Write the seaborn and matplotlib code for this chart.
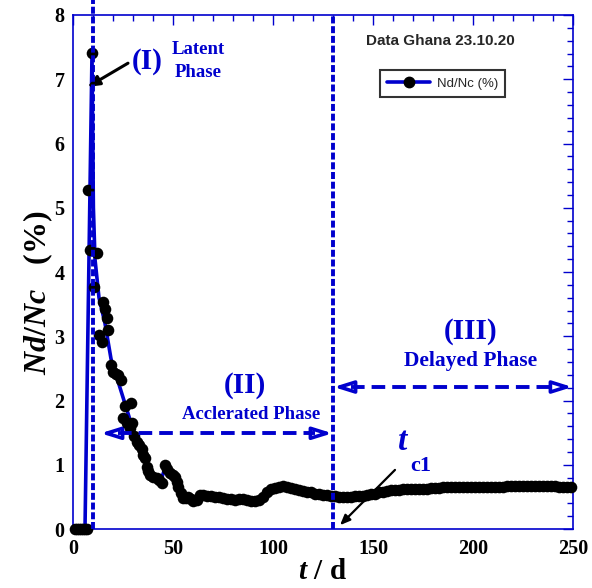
import numpy as np
import pandas as pd
import matplotlib
matplotlib.use("Agg")
import matplotlib.pyplot as plt
import seaborn as sns
from matplotlib.lines import Line2D
from matplotlib.ticker import MultipleLocator

# ─────────────────────────────────────────
# DATA
# ─────────────────────────────────────────

t_days = [1, 2, 3, 4, 5, 6, 7, 7.7, 8.5, 9.3, 10.7, 12.2, 13.2, 14.3, 15.2, 16.0,
          16.8, 17.7, 18.8, 20.2, 21.5, 22.7, 24.0, 24.8, 26.0, 26.8, 28.5, 28.8,
          29.3, 30.5, 31.8, 33.0, 34.3, 35.2, 36.0, 36.8, 37.6, 38.5, 40.0, 41.8,
          43.0, 44.3, 46.0, 47.2, 48.5, 49.8, 51.0, 52.0, 52.7, 54.0, 55.2, 56.5,
          57.7, 59.0, 60.2, 61.8, 63.5, 65, 67, 69, 71, 73, 75, 77, 79, 81, 83,
          85, 87, 89, 91, 93, 95, 97, 99, 101, 103, 105, 107, 109, 111, 113, 115,
          117, 119, 121, 123, 125, 127, 129, 131, 133, 135, 137, 139, 141, 143,
          145, 147, 149, 151, 153, 155, 157, 159, 161, 163, 165, 167, 169, 171,
          173, 175, 177, 179, 181, 183, 185, 187, 189, 191, 193, 195, 197, 199,
          201, 203, 205, 207, 209, 211, 213, 215, 217, 219, 221, 223, 225, 227,
          229, 231, 233, 235, 237, 239, 241, 243, 245, 247, 249]

nd_nc = [0, 0, 0, 0, 0, 0, 0, 5.27, 4.34, 7.41, 3.77, 4.29, 3.02, 2.91, 3.54, 3.42,
         3.28, 3.10, 2.55, 2.45, 2.42, 2.40, 2.32, 1.73, 1.91, 1.65, 1.57, 1.96,
         1.65, 1.45, 1.36, 1.30, 1.25, 1.15, 1.10, 0.97, 0.90, 0.84, 0.81, 0.79,
         0.76, 0.71, 0.99, 0.93, 0.87, 0.84, 0.81, 0.73, 0.66, 0.56, 0.48, 0.49,
         0.50, 0.46, 0.43, 0.45, 0.53, 0.53, 0.52, 0.51, 0.50, 0.50, 0.48, 0.47,
         0.46, 0.45, 0.46, 0.46, 0.45, 0.44, 0.43, 0.45, 0.50, 0.58, 0.63, 0.64,
         0.66, 0.67, 0.66, 0.64, 0.62, 0.61, 0.59, 0.58, 0.57, 0.55, 0.54, 0.53,
         0.53, 0.52, 0.51, 0.50, 0.50, 0.50, 0.50, 0.51, 0.52, 0.52, 0.53, 0.54,
         0.55, 0.57, 0.58, 0.59, 0.60, 0.61, 0.61, 0.62, 0.62, 0.63, 0.63, 0.63,
         0.63, 0.63, 0.64, 0.64, 0.64, 0.65, 0.65, 0.65, 0.65, 0.65, 0.65, 0.65,
         0.66, 0.66, 0.66, 0.66, 0.66, 0.66, 0.66, 0.66, 0.66, 0.67, 0.67, 0.67,
         0.67, 0.67, 0.67, 0.67, 0.67, 0.67, 0.67, 0.67, 0.67, 0.67, 0.66, 0.66,
         0.66, 0.66]

# smooth blue curve drawn under the points
fit_t  = [0, 6, 9.5, 10.2, 11, 13, 16, 19, 22, 25, 28, 31, 35, 40, 44, 46, 50,
          54, 57, 60, 65, 75, 85, 92, 97, 103, 108, 115, 122, 130, 138, 145,
          155, 165, 180, 200, 220, 240, 250]
fit_nd = [0, 0, 7.40, 5.00, 4.20, 3.60, 3.20, 2.65, 2.35, 2.05, 1.75, 1.40,
          1.10, 0.85, 0.76, 0.95, 0.83, 0.58, 0.49, 0.45, 0.52, 0.48, 0.45,
          0.44, 0.57, 0.66, 0.65, 0.59, 0.55, 0.52, 0.50, 0.52, 0.58, 0.62,
          0.64, 0.66, 0.67, 0.67, 0.66]

df_pts = pd.DataFrame({"t": t_days, "nd": nd_nc})
df_fit = pd.DataFrame({"t": fit_t, "nd": fit_nd})

BLUE = "#0000CD"

# ─────────────────────────────────────────
# FIGURE
# ─────────────────────────────────────────

sns.set_style("white")
plt.rcParams["font.family"] = ["Liberation Serif", "DejaVu Serif"]
plt.rcParams["mathtext.fontset"] = "custom"
plt.rcParams["mathtext.it"] = "Liberation Serif:italic:bold"
plt.rcParams["mathtext.rm"] = "Liberation Serif:bold"
plt.rcParams["mathtext.bf"] = "Liberation Serif:bold"

fig = plt.figure(figsize=(5.92, 5.88), dpi=100)
ax = fig.add_axes([0.1233, 0.1003, 0.8446, 0.8742])

sns.lineplot(data=df_fit, x="t", y="nd", color=BLUE, lw=2.6, ax=ax,
             legend=False, zorder=3)
sns.scatterplot(data=df_pts, x="t", y="nd", color="black", s=70,
                edgecolor="black", linewidth=0, ax=ax, legend=False, zorder=4,
                clip_on=False)

ax.set_xlim(0, 250)
ax.set_ylim(0, 8)
ax.xaxis.set_major_locator(MultipleLocator(50))
ax.xaxis.set_minor_locator(MultipleLocator(10))
ax.yaxis.set_major_locator(MultipleLocator(1))
ax.yaxis.set_minor_locator(MultipleLocator(0.2))
ax.tick_params(which="both", direction="in", top=True, right=True,
               color=BLUE, width=1, labelcolor="black")
ax.tick_params(which="major", length=7, labelsize=14.5)
ax.tick_params(axis="x", which="major", pad=7)
ax.tick_params(axis="y", which="major", pad=6)
ax.tick_params(which="minor", length=4)
for lab in ax.get_xticklabels() + ax.get_yticklabels():
    lab.set_fontweight("bold")
for sp in ax.spines.values():
    sp.set_color(BLUE)
    sp.set_linewidth(1.2)

ax.set_xlabel(r"$t\ /\ \mathrm{d}$", fontsize=21, labelpad=0, color="black")
ax.set_ylabel(r"$Nd/Nc\ \ \ \mathrm{(\%)}$", fontsize=23, color="black")
ax.yaxis.set_label_coords(-0.036, 0.46)

# phase separators
ax.plot([10, 10], [0, 8.3], color=BLUE, lw=2.8, ls=(0, (1.8, 0.7)),
        clip_on=False, zorder=5)
ax.plot([130, 130], [0, 8], color=BLUE, lw=2.8, ls=(0, (1.8, 0.7)),
        clip_on=False, zorder=5)

# double arrows for phases II and III (dashed shaft + open heads)
for x0, x1, yy in [(13.5, 130, 1.49), (130, 250, 2.21)]:
    ax.plot([x0 + 9, x1 - 9], [yy, yy], color=BLUE, lw=2.8,
            ls=(0, (3.5, 1.8)), zorder=5, clip_on=False)
    for a, b in [(x0 + 10.5, x0 + 0.3), (x1 - 10.5, x1 - 0.3)]:
        ax.annotate("", xy=(b, yy), xytext=(a, yy), annotation_clip=False,
                    arrowprops=dict(arrowstyle="-|>,head_length=1.15,head_width=0.36",
                                    fc="white", ec=BLUE, lw=2.6,
                                    shrinkA=0, shrinkB=0))

# labels
ax.text(29.5, 7.28, "(I)", color=BLUE, fontsize=21, fontweight="bold",
        ha="left", va="center")
ax.text(62.5, 7.28, "Latent\nPhase", color=BLUE, fontsize=13.5,
        fontweight="bold", ha="center", va="center", linespacing=1.45)
ax.text(86, 2.24, "(II)", color=BLUE, fontsize=21, fontweight="bold",
        ha="center", va="center")
ax.text(89, 1.79, "Acclerated Phase", color=BLUE, fontsize=13.5,
        fontweight="bold", ha="center", va="center")
ax.text(199, 3.08, "(III)", color=BLUE, fontsize=21, fontweight="bold",
        ha="center", va="center")
ax.text(199, 2.61, "Delayed Phase", color=BLUE, fontsize=15.5,
        fontweight="bold", ha="center", va="center")
ax.text(165, 1.36, "t", color=BLUE, fontsize=24, fontweight="bold",
        fontstyle="italic", ha="center", va="center")
ax.text(174, 0.98, "c1", color=BLUE, fontsize=16, fontweight="bold",
        ha="center", va="center")

ax.annotate("", xy=(7.3, 6.88), xytext=(27.5, 7.25),
            arrowprops=dict(arrowstyle="-|>,head_length=0.7,head_width=0.3",
                            color="black", lw=2.2, shrinkA=0, shrinkB=0))
ax.annotate("", xy=(133.5, 0.06), xytext=(161, 0.92),
            arrowprops=dict(arrowstyle="-|>,head_length=0.6,head_width=0.25",
                            color="black", lw=1.6, shrinkA=0, shrinkB=0))

ax.text(183.5, 7.6, "Data Ghana 23.10.20", fontsize=11, fontweight="bold",
        family=["Liberation Sans", "DejaVu Sans"], ha="center", va="center")

handle = Line2D([], [], color=BLUE, lw=2.6, marker="o", markersize=7.5,
                markerfacecolor="black", markeredgecolor="black")
leg = ax.legend([handle], ["Nd/Nc (%)"], loc="upper left",
                bbox_to_anchor=(0.60, 0.905), frameon=True, fancybox=False,
                handlelength=3.3, borderpad=0.55, handletextpad=0.5,
                prop={"family": ["Liberation Sans", "DejaVu Sans"], "size": 9.5})
leg.get_frame().set_edgecolor("black")
leg.get_frame().set_linewidth(1.5)

plt.savefig("out.png", dpi=100)
plt.close()
